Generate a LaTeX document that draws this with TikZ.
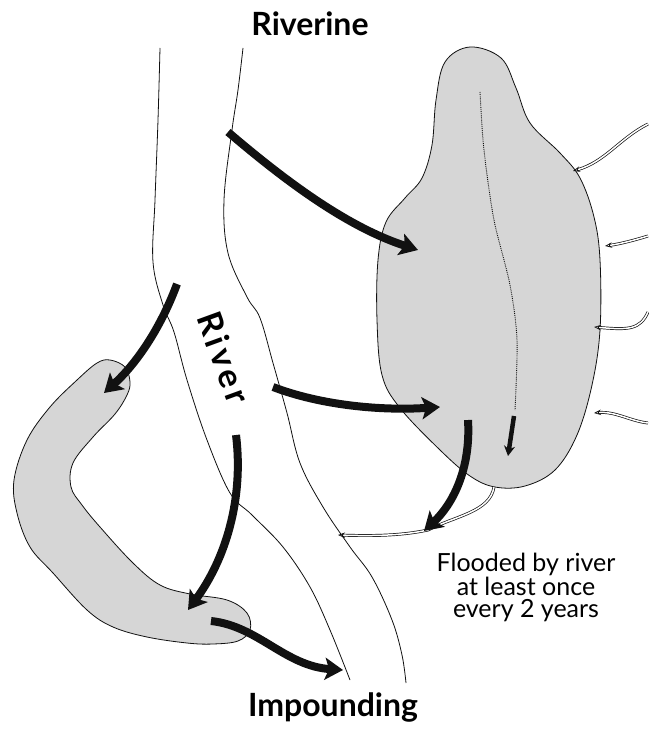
\documentclass[tikz,border=0pt]{standalone}
\usepackage{fontspec}
\setmainfont{Lato}
\newfontfamily\spacedfont[LetterSpace=12]{Lato}
\usepackage{xcolor}
\usepackage{tikz}
\usetikzlibrary{arrows.meta}
\definecolor{wetgray}{HTML}{D6D6D6}
\definecolor{inkblack}{HTML}{111111}

\tikzset{
  flow/.style={inkblack, line width=8pt, -{Stealth[length=18pt, width=22pt, inset=4pt]}},
  inflow/.style={inkblack, double=white, double distance=1.5pt, line width=0.7pt, -{Stealth[open, length=7pt, width=5.5pt]}},
  bank/.style={inkblack, line width=0.8pt},
  wetland/.style={fill=wetgray, draw=inkblack, line width=0.8pt}
}

\begin{document}
\begin{tikzpicture}[x=1pt, y=-1pt]
  \useasboundingbox (0,0) rectangle (648,730);
  % wetlands
  \draw[wetland] plot[smooth cycle, tension=0.6] coordinates {(470,47) (501,58) (516,88) (530,123) (560,153) (580,178) (594,217) (600,260) (600,330) (592,385) (577,435) (555,470) (525,486) (495,487) (470,476) (440,450) (400,408) (382,375) (377,320) (378,260) (386,222) (405,198) (422,178) (432,145) (436,100) (445,62)};
  \draw[wetland] plot[smooth cycle, tension=0.6] coordinates {(110,360) (125,367) (130,382) (127,395) (115,414) (93,437) (73,463) (71,487) (82,505) (100,527) (133,563) (160,585) (190,594) (227,600) (247,613) (250,630) (238,641) (213,644) (187,643) (147,637) (113,627) (87,610) (53,573) (30,547) (17,513) (14,480) (27,440) (50,407) (77,380) (97,363)};
  % river banks
  \draw[bank] plot[smooth, tension=0.6] coordinates {(160,48) (158,120) (155,200) (153,262) (163,305) (174,332) (187,380) (207,440) (230,493) (252,515) (283,547) (310,587) (330,630) (350,680)};
  \draw[bank] plot[smooth, tension=0.6] coordinates {(243,48) (238,90) (232,130) (224,200) (228,253) (247,297) (260,318) (273,363) (287,413) (300,463) (323,507) (350,547) (372,577) (392,620) (402,655) (406,683)};
  % channel inside the riverine wetland
  \draw[inkblack, densely dotted, line width=0.9pt] plot[smooth] coordinates {(480,92) (483,140) (488,182) (495,225) (510,285) (517,340) (515,410)};
  \draw[inkblack, line width=4.5pt, -{Stealth[length=10pt, width=11pt]}] (514,416) -- (508,456);
  % inflows from the hillside
  \draw[inflow] (648,124) .. controls (620,138) and (605,162) .. (573,171);
  \draw[inflow] (648,236) .. controls (635,240) and (620,244) .. (605,246);
  \draw[inflow] (648,312) .. controls (640,330) and (628,330) .. (594,327);
  \draw[inflow] (648,423) .. controls (630,421) and (615,411) .. (594,413);
  \draw[inflow] (494,487) .. controls (490,512) and (455,516) .. (428,530) .. controls (400,536) and (370,536) .. (338,535);
  % flood flows
  \draw[flow] (228,132) .. controls (290,185) and (350,228) .. (418,250);
  \draw[flow] (177,284) .. controls (160,330) and (135,365) .. (104,393);
  \draw[flow] (273,387) .. controls (320,405) and (380,411) .. (440,407);
  \draw[flow] (236,435) .. controls (244,500) and (225,560) .. (188,610);
  \draw[flow] (211,621) .. controls (258,626) and (285,666) .. (343,670);
  \draw[flow] (468,420) .. controls (471,470) and (452,505) .. (424,531);
  % labels
  \node[font=\fontsize{32}{34}\bfseries, anchor=base] (riverine) at (310,36) {Riverine};
  \node[font=\fontsize{32}{34}\bfseries, anchor=base] (impounding) at (333,716) {Impounding};
  \node[font=\spacedfont\fontsize{34}{36}\selectfont\bfseries, rotate=-70, inner sep=0pt] (river) at (224,358) {River};
  \node[font=\fontsize{25}{22}\selectfont, align=center, anchor=north] (flooded) at (526,550) {Flooded by river\\at least once\\every 2 years};
\end{tikzpicture}
\end{document}
